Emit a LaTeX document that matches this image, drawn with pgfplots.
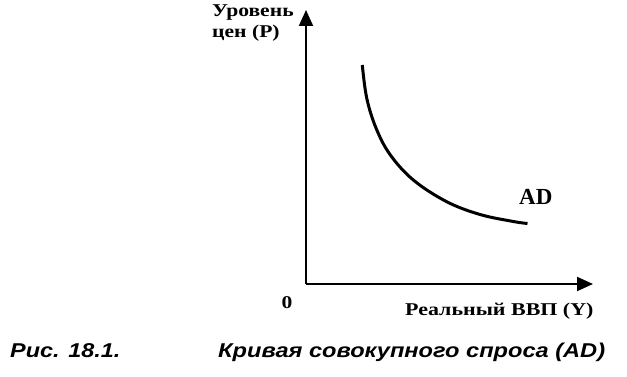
\documentclass[border=0pt]{standalone}
\usepackage{pgfplots}
\pgfplotsset{compat=1.18}
\usepackage{fontspec}
\setmainfont{Liberation Serif}
\newfontfamily\capfont{Liberation Sans}
\usetikzlibrary{arrows.meta}
\begin{document}
\begin{tikzpicture}[x=1pt,y=1pt]
\path[use as bounding box] (0,0) rectangle (627,377);
\begin{axis}[
  x=1pt, y=1pt,
  anchor=origin, at={(306pt,93pt)},
  xmin=0, xmax=287, ymin=0, ymax=274,
  enlargelimits=false,
  axis lines=left,
  axis line style={line width=2pt, -{Triangle[length=16pt,width=14pt]}},
  xtick=\empty, ytick=\empty,
  clip=false,
]
\addplot[line width=3pt, smooth, tension=0.6] coordinates {
(56.3,219) (60.7,186) (70,156) (84,129.5) (107.3,104) (140.7,82.3)
(174,69.5) (207.3,62.5) (221.5,60.5)
};
\end{axis}
\node[anchor=base west, inner sep=0pt, font=\bfseries\fontsize{18}{20}\selectfont] at (212,360) {\scalebox{1.2}[1]{Уровень}};
\node[anchor=base west, inner sep=0pt, font=\bfseries\fontsize{18}{20}\selectfont] at (212,339) {\scalebox{1.2}[1]{цен (P)}};
\node[anchor=center, inner sep=0pt, font=\bfseries\fontsize{18}{20}\selectfont] at (287,74) {\scalebox{1.2}[1]{0}};
\node[anchor=base west, inner sep=0pt, font=\bfseries\fontsize{18}{20}\selectfont] at (405,61) {\scalebox{1.22}[1]{Реальный ВВП (Y)}};
\node[anchor=base west, inner sep=0pt, font=\bfseries\fontsize{23}{25}\selectfont] at (519,172) {AD};
\node[anchor=base west, inner sep=0pt, font=\capfont\bfseries\itshape\fontsize{20}{22}\selectfont] at (10,19) {\scalebox{1.17}[1]{Рис. 18.1.}};
\node[anchor=base west, inner sep=0pt, font=\capfont\bfseries\itshape\fontsize{20}{22}\selectfont] at (218,19) {\scalebox{1.18}[1]{Кривая совокупного спроса (AD)}};
\end{tikzpicture}
\end{document}
